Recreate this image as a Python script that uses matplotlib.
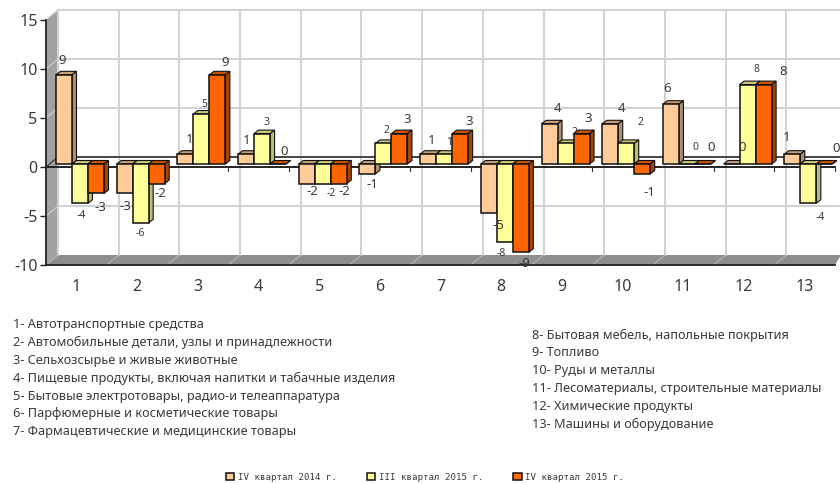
import matplotlib
matplotlib.use("Agg")
import matplotlib.pyplot as plt
from matplotlib.patches import Polygon

plt.rcParams['axes.unicode_minus'] = False

categories = list(range(1, 14))
q4_2014 = [9.1, -3, 1, 1, -2, -1, 1, -5, 4.1, 4.1, 6.1, 0, 1]
q3_2015 = [-4, -6, 5.1, 3.1, -2, 2.1, 1, -8, 2.1, 2.1, 0, 8.1, -4]
q4_2015 = [-3, -2, 9.1, 0, -2, 3.1, 3.1, -9, 3.1, -1, 0, 8.1, 0]
labels_a = ["9", "-3", "1", "1", "-2", "-1", "1", "-5", "4", "4", "6", "0", "1"]
labels_b = ["-4", "-6", "5", "3", "-2", "2", "1", "-8", "2", "2", "0", "8", "-4"]
labels_c = ["-3", "-2", "9", "0", "-2", "3", "3", "-9", "3", "-1", "0", "8", "0"]
series_names = ["IV квартал 2014 г.", "III квартал 2015 г.", "IV квартал 2015 г."]
notes_left = [
    "1- Автотранспортные средства",
    "2- Автомобильные детали, узлы и принадлежности",
    "3- Сельхозсырье и живые животные",
    "4- Пищевые продукты, включая напитки и табачные изделия",
    "5- Бытовые электротовары, радио-и телеаппаратура",
    "6- Парфюмерные и косметические товары",
    "7- Фармацевтические и медицинские товары",
]
notes_right = [
    "8- Бытовая мебель, напольные покрытия",
    "9- Топливо",
    "10- Руды и металлы",
    "11- Лесоматериалы, строительные материалы",
    "12- Химические продукты",
    "13- Машины и оборудование",
]

# label offsets in pixels from each bar end (right, down)
off_a = [(-2,-14),(1,13),(4,-15),(1,-14),(6,8),(5,11),(3,-14),(10,13),(8,-15),(11,-15),(-4,-16),(11,-16),(-6,-17)]
off_b = [(1,12),(0,11),(3,-10),(4,-11),(8,10),(3,-13),(5,-12),(-4,11),(9,-11),(14,-21),(9,-16),(9,-15),(12,14)]
off_c = [(4,14),(4,10),(8,-12),(6,-12),(6,8),(8,-14),(9,-12),(4,11),(7,-15),(7,19),(8,-16),(20,-13),(12,-15)]

W, H = 840, 483
L, R, T, B = 46, 835, 20, 265
fig = plt.figure(figsize=(W/100, H/100), dpi=100)
ax = fig.add_axes([L/W, 1-B/H, (R-L)/W, (B-T)/H])
ax.set_xlim(0.5, 13.5)
ax.set_ylim(-10, 15)
px = 13/(R-L)
py = 25/(B-T)
FONT = "Noto Sans"
TXT = "#3a3a3a"

# walls
wx, wy = 12*px, 10*py
ax.add_patch(Polygon([(0.5,15),(0.5+wx,15+wy),(0.5+wx,-10+wy),(0.5,-10)], fc="#a2a2a2", ec="none", clip_on=False, zorder=0))
ax.add_patch(Polygon([(0.5,-10),(0.5+wx,-10+wy),(13.5+wx/2,-10+wy),(13.5,-10)], fc="#8e8e8e", ec="none", clip_on=False, zorder=0))
ax.plot([0.5+wx,0.5+wx],[-10+wy,15+wy], color="#d2d2d2", lw=1.5, clip_on=False, zorder=1)
for v in [-5, 5, 10, 15]:
    ax.plot([0.5,0.5+wx],[v,v+wy], color="#c8c8c8", lw=1, clip_on=False, zorder=1)
    ax.plot([0.5+wx,13.5+wx/2],[v+wy,v+wy], color="#d2d2d2", lw=1.5, clip_on=False, zorder=1)
for k in range(0, 13):
    x = 1.5+k
    if k < 12:
        ax.plot([x+wx,x+wx],[-10+wy,15+wy], color="#d2d2d2", lw=1.5, clip_on=False, zorder=1)
    ax.plot([x-1+wx,x-1],[-10+wy,-10], color="#b4b4b4", lw=0.8, clip_on=False, zorder=1.2)
ax.plot([0.5+wx*1.5,13.5+wx/2],[wy,wy], color="#444444", lw=1.4, clip_on=False, zorder=1.5)
ax.plot([0.5,13.5],[0,0], color="#222222", lw=1.4, clip_on=False, zorder=1.5)
ax.plot([0.5,0.5+wx],[0,wy], color="#444444", lw=1, clip_on=False, zorder=1.5)
for k in categories:
    ax.plot([k+0.5,k+0.5],[0,-4*py], color="#333333", lw=0.8, clip_on=False, zorder=1.5)

# bars
bw = 16*px
dx3, dy3 = 4.5*px, 3.5*py
base = 3*py
series = [q4_2014, q3_2015, q4_2015]
front = ["#ffcc99", "#ffff99", "#ff6600"]
topc = ["#c99f78", "#caca78", "#cc5200"]
side = ["#b08e70", "#bcbc78", "#a84400"]
z = 3
handles = []
for k in range(13):
    for j, vals in enumerate(series):
        x0 = categories[k] + (j-1)*bw + 3.65*px
        v = vals[k]
        b = ax.bar(x0, v, bw, bottom=base, color=front[j], edgecolor="#111111", lw=1.1, zorder=z+0.2, clip_on=False)
        if k == 0:
            handles.append(b[0])
        up = base + max(v, 0); lo = base + min(v, 0)
        xr = x0 + bw/2; xl = x0 - bw/2
        ax.add_patch(Polygon([(xl,up),(xl+dx3,up+dy3),(xr+dx3,up+dy3),(xr,up)], fc=topc[j], ec="#111111", lw=0.8, clip_on=False, zorder=z))
        ax.add_patch(Polygon([(xr,up),(xr+dx3,up+dy3),(xr+dx3,lo+dy3),(xr,lo)], fc=side[j], ec="#111111", lw=0.8, clip_on=False, zorder=z))
        z += 1

# data labels
for j, (vals, labs, offs) in enumerate(zip(series, [labels_a, labels_b, labels_c], [off_a, off_b, off_c])):
    for k in range(13):
        x0 = categories[k] + (j-1)*bw + 3.65*px
        ax.annotate(labs[k], (x0, base+vals[k]), xytext=(offs[k][0]*0.72, -offs[k][1]*0.72),
                    textcoords="offset points", ha="center", va="center",
                    fontsize=7.5 if j == 1 else 9.5, color=TXT, family=FONT,
                    annotation_clip=False, zorder=200)

# axes
for s in ["top", "right"]:
    ax.spines[s].set_visible(False)
ax.spines["left"].set_color("#222222")
ax.spines["bottom"].set_color("#222222")
ax.spines["left"].set_linewidth(1.3)
ax.spines["bottom"].set_linewidth(1.3)
ax.patch.set_alpha(0)
ax.set_yticks([-10, -5, 0, 5, 10, 15])
ax.set_xticks(categories)
ax.tick_params(axis="y", length=4, width=1, color="#222222", pad=2, labelsize=11.5, labelcolor=TXT)
ax.tick_params(axis="x", length=0, pad=10, labelsize=11.5, labelcolor=TXT)
for t in ax.get_xticklabels() + ax.get_yticklabels():
    t.set_family(FONT)

# notes
for i, s in enumerate(notes_left):
    fig.text(13/W, 1-(324.5+17.9*i)/H, s, fontsize=9.15, color=TXT, family=FONT, va="center")
for i, s in enumerate(notes_right):
    fig.text(532/W, 1-(335+17.9*i)/H, s, fontsize=9.15, color=TXT, family=FONT, va="center")

leg = fig.legend(handles, series_names, ncol=3, loc="center", bbox_to_anchor=(425/W, 1-477/H),
                 frameon=False, prop={"family": "DejaVu Sans Mono", "size": 6.6},
                 handlelength=0.9, handleheight=0.9, handletextpad=0.4, columnspacing=3.3)
for t in leg.get_texts():
    t.set_color(TXT)
fig.savefig("out.png", dpi=100)
